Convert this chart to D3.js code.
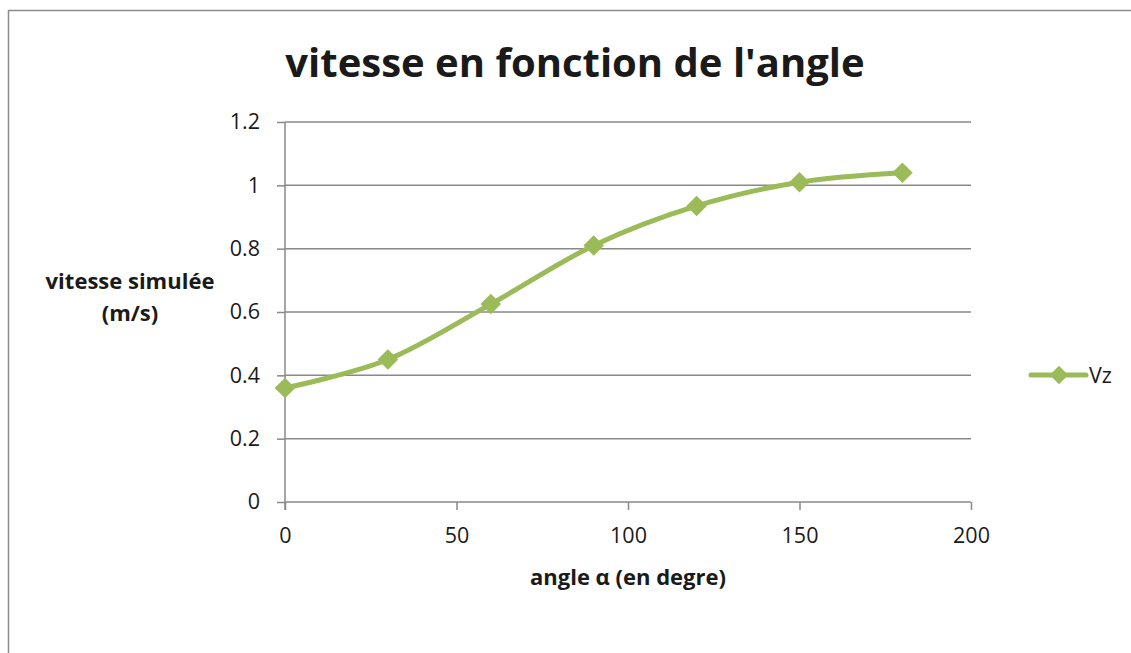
<!DOCTYPE html>
<html>
<head>
<meta charset="utf-8">
<script src="https://cdn.jsdelivr.net/npm/d3@7"></script>
<style>
  body { margin: 0; background: #fff; }
  text { font-family: "Open Sans", "Noto Sans", sans-serif; fill: #1a1a1a; }
</style>
</head>
<body>
<div id="plot"></div>
<script>
// chart data
const angles = [0, 30, 60, 90, 120, 150, 180];
const vz = [0.36, 0.45, 0.625, 0.81, 0.935, 1.01, 1.04];
const xTicks = [0, 50, 100, 150, 200];
const yTicks = [0, 0.2, 0.4, 0.6, 0.8, 1, 1.2];
const seriesName = 'Vz';
const title = "vitesse en fonction de l'angle";
const xTitle = 'angle \u03b1 (en degre)';
const yTitle = ['vitesse simulée', '(m/s)'];

const W = 1131, H = 653;
const margin = { top: 122, right: 160, bottom: 151, left: 285 };
const width = W - margin.left - margin.right;   // 686
const height = H - margin.top - margin.bottom;  // 380
const green = '#9bbb59';
const gridColor = '#898989';

const svg = d3.select('#plot').append('svg').attr('width', W).attr('height', H);

// outer chart border (only left and top are inside the picture)
svg.append('path')
  .attr('d', `M8.5,${H} V10.5 H${W}`)
  .attr('fill', 'none')
  .attr('stroke', '#8c8c8c')
  .attr('stroke-width', 1.5);

const g = svg.append('g').attr('transform', `translate(${margin.left},${margin.top})`);

const x = d3.scaleLinear().domain([0, 200]).range([0, width]);
const y = d3.scaleLinear().domain([0, 1.2]).range([height, 0]);

// horizontal gridlines + y ticks
const yAxis = d3.axisLeft(y).tickValues(yTicks).tickSize(8).tickPadding(17)
  .tickFormat(d => d3.format('~g')(d));
const ya = g.append('g').call(yAxis);
ya.select('.domain').remove();
ya.selectAll('line').attr('stroke', gridColor).attr('stroke-width', 1.5);
ya.selectAll('text').style('font-size', '21.5px').attr('fill', '#1a1a1a');

g.append('g').selectAll('line.grid')
  .data(yTicks)
  .enter().append('line')
  .attr('class', 'grid')
  .attr('x1', 0).attr('x2', width)
  .attr('y1', d => y(d)).attr('y2', d => y(d))
  .attr('stroke', gridColor).attr('stroke-width', 1.5);

// vertical axis line
g.append('line')
  .attr('x1', 0).attr('x2', 0).attr('y1', 0).attr('y2', height + 8)
  .attr('stroke', gridColor).attr('stroke-width', 1.5);

// x axis ticks
const xAxis = d3.axisBottom(x).tickValues(xTicks).tickSize(8).tickPadding(18);
const xa = g.append('g').attr('transform', `translate(0,${height})`).call(xAxis);
xa.select('.domain').remove();
xa.selectAll('line').attr('stroke', gridColor).attr('stroke-width', 1.5);
xa.selectAll('text').style('font-size', '21.5px').attr('fill', '#1a1a1a');

// series
const pts = angles.map((a, i) => ({ a, v: vz[i] }));
const line = d3.line().x(d => x(d.a)).y(d => y(d.v)).curve(d3.curveCardinal.tension(0));
g.append('path')
  .datum(pts)
  .attr('d', line)
  .attr('fill', 'none')
  .attr('stroke', green)
  .attr('stroke-width', 5)
  .attr('stroke-linecap', 'round');

const diamond = d3.symbol().type(d3.symbolDiamond2).size(270);
g.selectAll('path.marker')
  .data(pts)
  .enter().append('path')
  .attr('class', 'marker')
  .attr('d', diamond)
  .attr('transform', d => `translate(${x(d.a)},${y(d.v)})`)
  .attr('fill', green);

// title
svg.append('text')
  .attr('x', 575).attr('y', 77)
  .attr('text-anchor', 'middle')
  .style('font-size', '40px')
  .style('font-weight', 'bold')
  .text(title);

// axis titles
svg.append('text')
  .attr('x', 628).attr('y', 585)
  .attr('text-anchor', 'middle')
  .style('font-size', '22px')
  .style('font-weight', 'bold')
  .text(xTitle);

svg.append('g').selectAll('text')
  .data(yTitle)
  .enter().append('text')
  .attr('x', 130)
  .attr('y', (d, i) => 289 + i * 32)
  .attr('text-anchor', 'middle')
  .style('font-size', '22px')
  .style('font-weight', 'bold')
  .text(d => d);

// legend
const legendDiamond = d3.symbol().type(d3.symbolDiamond2).size(220);
const lg = svg.append('g').attr('transform', 'translate(1031,375)');
lg.append('line')
  .attr('x1', 0).attr('x2', 55).attr('y1', 0).attr('y2', 0)
  .attr('stroke', green).attr('stroke-width', 5).attr('stroke-linecap', 'round');
lg.append('path').attr('d', legendDiamond).attr('transform', 'translate(28,0)').attr('fill', green);
lg.append('text')
  .attr('x', 58).attr('y', 8)
  .style('font-size', '21.5px')
  .text(seriesName);
</script>
</body>
</html>
